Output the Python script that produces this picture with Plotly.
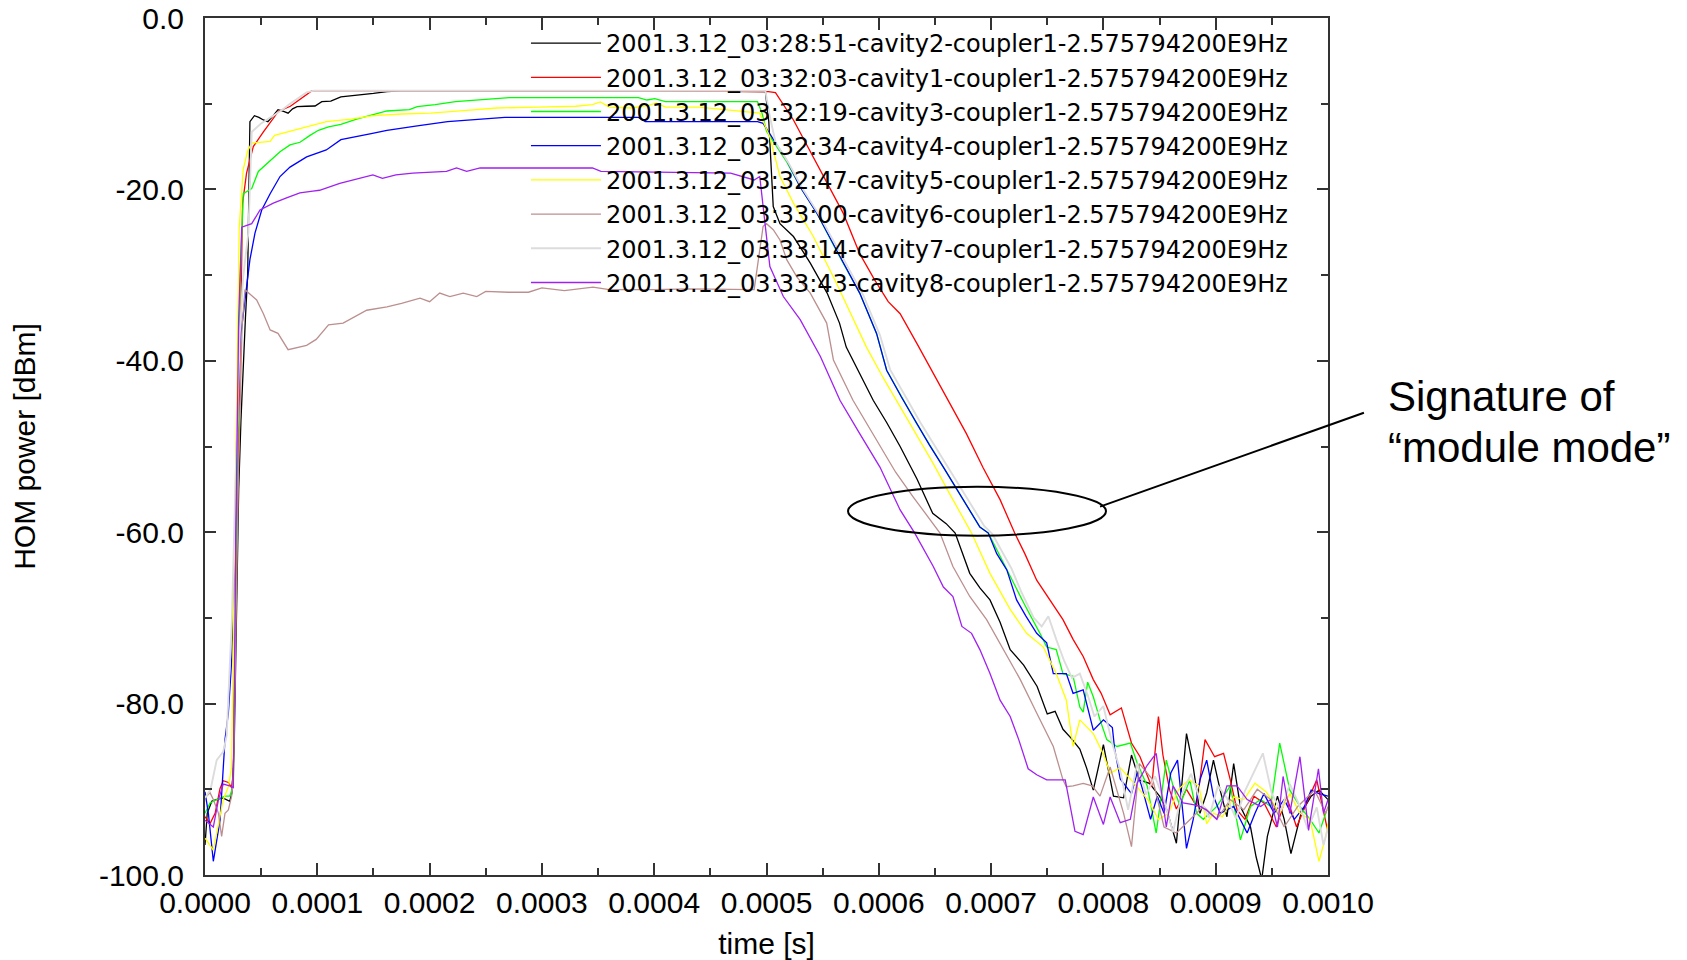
import plotly.graph_objects as go

# ---------------- data (time in microseconds, power in dBm) ----------------
names = [
    "2001.3.12_03:28:51-cavity2-coupler1-2.575794200E9Hz",
    "2001.3.12_03:32:03-cavity1-coupler1-2.575794200E9Hz",
    "2001.3.12_03:32:19-cavity3-coupler1-2.575794200E9Hz",
    "2001.3.12_03:32:34-cavity4-coupler1-2.575794200E9Hz",
    "2001.3.12_03:32:47-cavity5-coupler1-2.575794200E9Hz",
    "2001.3.12_03:33:00-cavity6-coupler1-2.575794200E9Hz",
    "2001.3.12_03:33:14-cavity7-coupler1-2.575794200E9Hz",
    "2001.3.12_03:33:43-cavity8-coupler1-2.575794200E9Hz",
]
colors = ["#000000", "#ff0000", "#00ff00", "#0000ff", "#ffff00", "#bc8f8f", "#dcdcdc", "#a020f0"]
widths = [1.3, 1.3, 1.3, 1.3, 1.3, 1.3, 1.9, 1.3]

cav2_t = [0, 2, 6, 10, 16, 22, 24, 26, 28, 30, 32, 34, 36, 38, 40, 44, 48, 52, 56, 60, 65, 70, 74, 78, 82, 90, 98, 104, 112, 121, 130, 141, 150, 162, 175, 200, 300, 400, 499, 502, 506, 512, 524, 539, 554, 565, 571, 583, 595, 607, 619, 634, 648, 660, 668, 681, 690, 699, 708, 717, 729, 741, 750, 757, 764, 771, 779, 785, 791, 800, 806, 809, 818, 825, 832, 841, 850, 856, 865, 874, 880, 886, 892, 898, 904, 910, 916, 922, 931, 936, 941, 946, 955, 961, 967, 976, 985, 992, 1000]
cav2_v = [-96.5, -92.8, -91.4, -91.2, -91.0, -91.4, -90.4, -85, -70, -55, -47, -40, -35, -30, -12.1, -11.4, -11.6, -11.9, -12.1, -11.5, -10.7, -10.9, -11.1, -10.6, -10.35, -10.3, -10.27, -9.76, -9.7, -9.2, -9.1, -8.9, -8.8, -8.6, -8.5, -8.5, -8.5, -8.5, -8.6, -12, -22, -24, -25.5, -28.6, -32.1, -35.6, -38.4, -41.5, -44.6, -47.2, -50, -53.8, -57.8, -59, -60.1, -64.8, -66.5, -67.9, -70.5, -73.7, -75.5, -78, -81.2, -80.9, -83, -84, -85.3, -87.5, -90.1, -84.8, -88.9, -90.8, -91, -86, -88.9, -89.3, -90.8, -92.2, -96.3, -83.5, -87.4, -92.8, -90.4, -86.6, -90.1, -93.2, -87, -92, -94.4, -97.9, -100.5, -95.5, -90.8, -93.5, -97.5, -92.8, -90.8, -90.1, -91.2]

cav1_t = [0, 4.5, 9, 13.4, 16.3, 20.8, 23.7, 25.2, 28, 31, 33.5, 37, 43, 52, 59.4, 65.3, 76, 86, 95, 200, 300, 400, 501.6, 508, 524, 541.7, 555, 568.4, 583, 596, 608.4, 619, 634, 648.5, 663, 678, 693, 708, 721, 730, 740.6, 752, 764, 773, 782, 791, 798, 806, 816, 825, 832.6, 843, 849, 853, 859, 865, 874, 883, 890.5, 899, 907, 913, 919, 926, 934, 943, 954, 963, 972, 981, 990, 997, 1000]
cav1_v = [-93.2, -94, -92.8, -89.9, -89, -89.2, -89.8, -88.3, -65, -40, -21.6, -18.1, -15.0, -13.3, -11.9, -10.9, -10.3, -9.3, -8.5, -8.5, -8.5, -8.5, -8.6, -8.7, -11.9, -16.2, -19.5, -22.8, -27.5, -30.5, -33.1, -34.5, -38, -41.5, -45, -48.5, -52.5, -56.2, -60.1, -62.5, -65.6, -67.8, -70.2, -72.5, -74.5, -77.2, -78.8, -81.3, -80.5, -84.6, -86.2, -89.7, -81.5, -86, -90.1, -92.3, -90, -92, -84.2, -86.2, -85.8, -88.9, -92.4, -93.5, -90.8, -91.6, -94.4, -90.8, -94.4, -91.6, -88.9, -93.2, -95]

cav3_t = [0, 4.5, 10.4, 17.8, 22, 25.2, 28, 31, 34, 41.6, 47.5, 58, 66.8, 75.7, 84.6, 93.5, 101, 110, 121, 135, 150, 162, 182, 189, 205, 223, 250, 271, 386, 393.6, 400.5, 410, 492, 496, 500, 506, 518, 530, 545, 562, 583, 598, 607, 633.6, 657.5, 690, 697.5, 714, 717, 730, 743.5, 749.5, 758, 764, 773, 779, 782, 786, 791, 797, 803, 812, 824, 830, 839, 847, 856, 862, 868, 877, 883, 889, 901, 913, 922, 931, 940, 949, 957, 966, 975, 984, 992, 999]
cav3_v = [-92.8, -91.6, -91.2, -90.8, -90.8, -89.6, -60, -32, -20.5, -19.9, -17.9, -16.6, -15.6, -14.8, -14.5, -13.7, -13.1, -12.7, -12.4, -11.8, -11.3, -10.85, -10.7, -10.35, -10.1, -9.76, -9.5, -9.3, -9.3, -9.57, -9.4, -9.76, -9.76, -11.1, -13.2, -14.4, -16.8, -19.7, -22.8, -27.1, -32.1, -36.8, -41.1, -47.3, -52.4, -59.4, -60.1, -64.4, -65.2, -68.5, -71.8, -73.4, -73.7, -76.5, -76.8, -80.4, -81, -77.5, -79.2, -81.9, -84.2, -85, -84.6, -86.9, -89.6, -95.1, -86.6, -89.6, -91.9, -88.9, -92.8, -93.5, -92, -89.6, -95.9, -92, -91.2, -92, -84.6, -90.1, -92, -93.5, -95.1, -92.4]

cav4_t = [0, 3, 7.4, 10.4, 13.4, 17.8, 20.8, 23.7, 25.2, 26.7, 28, 31, 35.6, 40, 44.5, 50.5, 58, 66.8, 75.7, 90.5, 108, 121, 148, 162, 189, 209, 216, 267, 386, 392, 492, 497, 506, 518, 530, 545, 562.5, 583, 598, 607, 620, 633.6, 645, 657.5, 673, 690, 697.5, 705, 714, 722.7, 731, 740.6, 749.5, 755.4, 767, 773, 782, 791, 800, 808, 810, 815, 825, 830, 834, 842, 848, 854, 860, 866, 874, 880, 886, 892, 898, 904, 916, 928, 935, 943, 952, 961, 970, 979, 985, 992, 1000]
cav4_v = [-90.3, -92.8, -98.4, -95.9, -93.6, -84.2, -81.1, -75.1, -69.5, -63.2, -50, -38, -32.9, -28.2, -25.1, -22.4, -20.5, -18.5, -17.4, -16.2, -15.4, -14.2, -13.5, -13.1, -12.6, -12.2, -12.1, -11.6, -11.6, -12.1, -12.1, -12.3, -14.2, -16.6, -19.7, -22.8, -27.1, -32.1, -36.8, -41.1, -44.2, -47.3, -49.8, -52.4, -55.8, -59.4, -60.1, -62.5, -64.4, -67.9, -69.8, -71.8, -72.9, -76.5, -76.5, -78.8, -78.4, -83.1, -81.9, -82.8, -85.3, -88.8, -90.5, -88.1, -89.6, -93.5, -90.8, -92.8, -88.1, -86.6, -96.9, -93.5, -88.9, -86.6, -90.8, -92.8, -92, -95.1, -92.8, -90.5, -92.8, -91.2, -93.5, -92, -90.1, -90.5, -90.8]

cav5_t = [0, 3, 7.4, 12, 16.3, 20.8, 23.7, 26.7, 28.5, 30.5, 34, 38, 41.6, 50, 58, 62, 73, 90.5, 108, 130, 150, 175, 201, 230, 260, 297, 330, 345, 352, 360, 380, 395, 402, 410, 440, 494, 503, 506, 512, 524, 541.7, 562.5, 583, 589, 604, 619, 634, 648.5, 663, 678, 682.6, 699, 717, 731.6, 746.5, 758, 767, 773, 779, 791, 800, 806, 815, 828, 840, 849, 858, 867, 876, 885, 892, 898, 906, 916, 925, 935, 945, 957, 966, 975, 984, 992, 998, 1000]
cav5_v = [-95.7, -96.3, -97.1, -94, -91.2, -89.7, -87.4, -57.4, -40, -24.4, -17.7, -15.5, -14.6, -14.5, -14.4, -13.7, -13.3, -12.7, -12.1, -11.8, -11.4, -11.2, -11.1, -10.8, -10.5, -10.4, -10.3, -10.1, -9.8, -10.4, -10.5, -10.2, -9.9, -10.4, -10.4, -11.1, -13.9, -15.4, -18.5, -21.6, -25.5, -31, -36.8, -38.4, -42, -45.4, -48.8, -52, -55.5, -59, -60.1, -64.8, -69, -71.8, -73.4, -76.5, -79.6, -85, -81.9, -83.5, -85.9, -88.1, -87.5, -89.4, -91.3, -93.5, -92.8, -90, -88.9, -89.6, -94, -92.8, -93.2, -90.9, -91.2, -89.3, -90.3, -92.8, -90.5, -92.8, -93.5, -98.4, -95.5, -94]

cav6_t = [0, 4.5, 7.4, 12, 14.8, 17.8, 20.8, 23.7, 25.2, 29.8, 33, 35.6, 46, 52, 58, 65, 74, 80, 90.5, 99, 110, 123, 144, 162, 175, 191.5, 200, 209, 218, 230, 242, 250, 270, 288, 300, 320, 345.5, 360, 400, 430, 489, 493, 497, 500, 506, 512, 518, 527, 539, 553.6, 559.6, 577, 601, 615, 630.7, 643, 654.5, 666, 681, 696, 711, 726, 740.6, 755.4, 764, 767, 773, 782, 790, 797, 806, 818, 825, 832, 844, 854, 865, 880, 889, 901, 913, 925, 937, 949, 961, 973, 988, 998, 1000]
cav6_v = [-91, -90.4, -91.2, -92.8, -95.5, -92.8, -92.4, -90.8, -88.9, -53, -36, -31.7, -32.9, -34.5, -36.4, -36.8, -38.7, -38.5, -38.2, -37.5, -35.8, -35.6, -34.1, -33.7, -33.3, -32.7, -33.1, -32.1, -32.5, -32.1, -32.5, -31.9, -32.0, -32, -31.5, -31.8, -31.4, -31.7, -31.7, -31.6, -31.7, -28, -24.3, -24, -24.7, -25.9, -28.2, -30.2, -32.1, -35.6, -39.9, -44.6, -50, -53, -55.9, -58, -60.1, -64, -67.5, -70.2, -73.7, -77.2, -81.1, -85, -88.9, -89.7, -89.6, -89.3, -89.6, -90.8, -87.4, -92.8, -96.7, -87, -88.9, -94.4, -95.1, -93.2, -92, -93.5, -91.2, -92.4, -90, -91.2, -94.4, -92, -90.1, -92.8, -92]

cav7_t = [0, 5, 10.4, 16.3, 19.3, 24, 27, 31, 34, 38.6, 41.6, 50, 59.5, 68, 75.7, 84, 90.5, 97, 200, 300, 400, 499, 503, 508, 520, 532, 547, 565, 586, 601, 610, 637, 661, 694, 701, 718, 727, 738, 745, 751, 758, 765, 772, 779, 786, 792, 800, 808, 815, 822, 830, 838, 846, 854, 862, 870, 878, 886, 894, 902, 910, 918, 926, 934, 942, 950, 958, 966, 974, 982, 990, 996, 1000]
cav7_v = [-91, -90, -86.6, -85.6, -83.7, -70, -55, -36.8, -30.2, -25.1, -13.3, -12.3, -11.5, -10.8, -10, -9.3, -8.67, -8.48, -8.48, -8.48, -8.48, -8.5, -11.5, -14.5, -17, -19.9, -23, -27.3, -32.3, -37, -41, -47.2, -52.3, -59.3, -60.2, -64.2, -67, -70, -71, -69.8, -72.5, -75, -77, -76.5, -79, -81.5, -80.3, -84.7, -87.8, -92.4, -87, -90.6, -88.5, -91.3, -95, -90.5, -88.2, -91.2, -93.3, -89.6, -91, -93.4, -90.2, -88, -85.8, -90.5, -92.5, -89.4, -91.7, -94.6, -92.1, -96.5, -94.5]

cav8_t = [0, 4, 7.4, 12, 16.3, 22, 25.2, 27.5, 30, 32.7, 41.6, 49, 60.8, 72.6, 84.5, 96, 102, 120, 138, 149.5, 158, 170, 185, 215, 224, 233, 245, 345, 352.6, 468, 489, 494, 498.7, 503, 515, 530, 548, 565.4, 583, 601, 619, 632, 648.5, 657.5, 666, 674, 682.6, 690, 699, 708, 717, 724.6, 733, 740.6, 749.5, 766, 774.7, 782, 791, 800, 806, 815, 824, 830, 839, 847, 851, 856, 862, 871, 880, 886, 891.5, 901, 910, 919, 928, 940, 949, 955, 960, 966, 975, 982.7, 991.5, 996, 1000]
cav8_v = [-93.6, -94, -94.4, -91.2, -89.4, -89.6, -89.8, -60, -35, -24.4, -24, -22.4, -21.6, -21, -20.4, -20.2, -20.1, -19.3, -18.7, -18.3, -18.7, -18.3, -18.1, -17.9, -17.5, -17.9, -17.5, -17.5, -17.9, -18.1, -18.9, -18.5, -24, -29, -32.5, -35.2, -39.5, -44.6, -48.5, -52.4, -57.4, -60.1, -64, -66.4, -67.5, -71, -71.8, -73.7, -76.5, -79.6, -81.5, -84.2, -87.6, -88.3, -88.9, -88.9, -94.9, -95.3, -90.9, -94.1, -90.9, -93.9, -93.5, -89.3, -87.2, -85.8, -89.6, -94.4, -89.6, -91.6, -91.8, -92, -92.4, -93.5, -89.6, -89.6, -91.2, -92, -91.2, -94.4, -88.5, -92.8, -86.2, -94.8, -87.6, -92.8, -91.2]

series_t = [cav2_t, cav1_t, cav3_t, cav4_t, cav5_t, cav6_t, cav7_t, cav8_t]
series_v = [cav2_v, cav1_v, cav3_v, cav4_v, cav5_v, cav6_v, cav7_v, cav8_v]

x_ticks = [0.0, 0.0001, 0.0002, 0.0003, 0.0004, 0.0005, 0.0006, 0.0007, 0.0008, 0.0009, 0.001]
x_tick_labels = ["0.0000", "0.0001", "0.0002", "0.0003", "0.0004", "0.0005",
                 "0.0006", "0.0007", "0.0008", "0.0009", "0.0010"]
y_ticks = [0, -20, -40, -60, -80, -100]
y_tick_labels = ["0.0", "-20.0", "-40.0", "-60.0", "-80.0", "-100.0"]

# annotation (ellipse around the "module mode" region, in data units)
ellipse_t = [572.6e-6, 802.3e-6]
ellipse_v = [-60.4, -54.7]

# ---------------- figure ----------------
TICKFONT = dict(family="Liberation Sans, Arial, sans-serif", size=30, color="black")
AX = "#333333"

fig = go.Figure()
for name, t, v, c, w in zip(names, series_t, series_v, colors, widths):
    fig.add_trace(go.Scatter(
        x=[ti * 1e-6 for ti in t], y=v, mode="lines", name=name,
        line=dict(color=c, width=w),
    ))

fig.update_layout(
    width=1687, height=960, autosize=False,
    margin=dict(l=205, r=359, t=18, b=85, autoexpand=False),
    plot_bgcolor="white", paper_bgcolor="white",
    showlegend=True,
    legend=dict(
        x=0.2858, y=0.9965, xanchor="left", yanchor="top",
        itemwidth=70,
        bgcolor="rgba(0,0,0,0)", borderwidth=0,
        font=dict(family="DejaVu Sans, sans-serif", size=24, color="black"),
    ),
)

fig.update_xaxes(
    range=[0, 0.001], tickmode="array", tickvals=x_ticks, ticktext=x_tick_labels,
    ticks="inside", ticklen=12, tickwidth=1.5, tickcolor=AX,
    minor=dict(dtick=0.00005, tick0=0, ticks="inside", ticklen=7, tickwidth=1.5, tickcolor=AX, showgrid=False),
    showline=True, linecolor=AX, linewidth=2, mirror="allticks", automargin=False,
    ticklabeloverflow="allow",
    showgrid=False, zeroline=False, tickfont=TICKFONT, ticklabelstandoff=0,
    title=dict(text="time [s]", font=TICKFONT, standoff=25),
)
fig.update_yaxes(
    range=[-100, 0], tickmode="array", tickvals=y_ticks, ticktext=y_tick_labels,
    ticks="inside", ticklen=11, tickwidth=1.5, tickcolor=AX,
    minor=dict(dtick=10, tick0=0, ticks="inside", ticklen=7, tickwidth=1.5, tickcolor=AX, showgrid=False),
    showline=True, linecolor=AX, linewidth=2, mirror="allticks", automargin=False,
    ticklabeloverflow="allow",
    showgrid=False, zeroline=False, tickfont=TICKFONT, ticklabelstandoff=13,
    title=dict(text="HOM power [dBm]", font=TICKFONT, standoff=54),
)

fig.add_shape(type="circle", xref="x", yref="y",
              x0=ellipse_t[0], x1=ellipse_t[1], y0=ellipse_v[0], y1=ellipse_v[1],
              line=dict(color="black", width=2))
fig.add_shape(type="line", xref="paper", yref="paper",
              x0=0.797, y0=0.4298, x1=1.032, y1=0.5394,
              line=dict(color="black", width=2))

ANNFONT = dict(family="Liberation Sans, Arial, sans-serif", size=42, color="black")
fig.add_annotation(text="Signature of", xref="paper", yref="paper", x=1.0517, y=0.5578,
                   xanchor="left", yanchor="middle", showarrow=False, font=ANNFONT)
fig.add_annotation(text="\u201cmodule mode\u201d", xref="paper", yref="paper", x=1.0517, y=0.4985,
                   xanchor="left", yanchor="middle", showarrow=False, font=ANNFONT)

# remove the default 8px page margin so the figure sits at the window's top-left corner
fig.write_html("out.html", config={"displayModeBar": False},
               post_script="document.body.style.margin='0px';")
